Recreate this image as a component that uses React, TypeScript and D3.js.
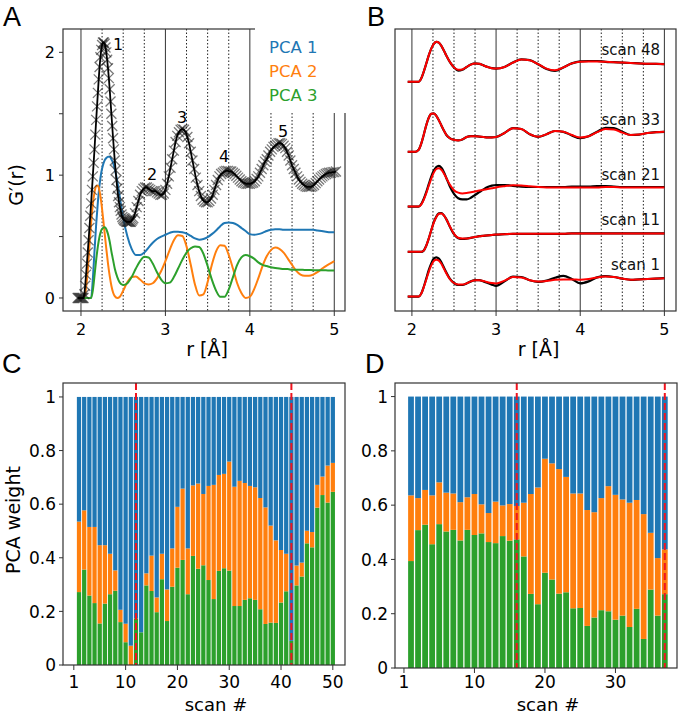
import * as d3 from 'd3';
import React from 'react';

// ---------- colours / fonts ----------
const BLUE = '#1f77b4';
const ORANGE = '#ff7f0e';
const GREEN = '#2ca02c';
const RED = '#ff0000';
const FONT = '"DejaVu Sans", Verdana, sans-serif';

// ---------- panel A: experimental G'(r) ----------
const expData: [number, number][] = [
  [1.96, 0], [1.97, 0], [1.98, 0], [1.99, 0], [2.0, 0], [2.01, 0], [2.02, 0], [2.03, 0],
  [2.04, 0.03], [2.05, 0.1], [2.06, 0.19], [2.07, 0.28], [2.08, 0.37], [2.09, 0.47], [2.1, 0.57],
  [2.11, 0.67], [2.12, 0.77], [2.13, 0.88], [2.14, 0.99], [2.15, 1.1], [2.16, 1.21], [2.17, 1.33],
  [2.18, 1.45], [2.19, 1.56], [2.2, 1.67], [2.21, 1.78], [2.22, 1.88], [2.23, 1.96], [2.24, 2.02],
  [2.25, 2.06], [2.26, 2.08], [2.27, 2.08], [2.28, 2.07], [2.29, 2.04], [2.3, 2.0], [2.31, 1.94],
  [2.32, 1.87], [2.33, 1.79], [2.34, 1.7], [2.35, 1.6], [2.36, 1.5], [2.37, 1.4], [2.38, 1.3],
  [2.39, 1.21], [2.4, 1.12], [2.41, 1.04], [2.42, 0.96], [2.43, 0.89], [2.44, 0.83], [2.45, 0.78],
  [2.46, 0.74], [2.47, 0.71], [2.48, 0.68], [2.49, 0.66], [2.5, 0.645], [2.51, 0.635], [2.52, 0.63],
  [2.53, 0.625], [2.54, 0.62], [2.55, 0.62], [2.56, 0.62], [2.57, 0.62], [2.58, 0.62], [2.59, 0.62],
  [2.6, 0.63], [2.61, 0.64], [2.62, 0.65], [2.64, 0.69], [2.66, 0.74], [2.68, 0.79], [2.7, 0.84],
  [2.72, 0.87], [2.74, 0.89], [2.76, 0.9], [2.78, 0.9], [2.8, 0.89], [2.82, 0.88], [2.84, 0.87],
  [2.86, 0.87], [2.88, 0.87], [2.9, 0.86], [2.92, 0.85], [2.94, 0.84], [2.96, 0.84], [2.98, 0.85],
  [3.0, 0.88], [3.02, 0.93], [3.04, 0.99], [3.06, 1.06], [3.08, 1.13], [3.1, 1.2], [3.12, 1.27],
  [3.14, 1.32], [3.16, 1.35], [3.18, 1.37], [3.2, 1.375], [3.22, 1.37], [3.24, 1.35], [3.26, 1.31],
  [3.28, 1.26], [3.3, 1.19], [3.32, 1.12], [3.34, 1.05], [3.36, 0.98], [3.38, 0.92], [3.4, 0.87],
  [3.42, 0.83], [3.44, 0.8], [3.46, 0.785], [3.48, 0.78], [3.5, 0.78], [3.52, 0.79], [3.54, 0.81],
  [3.56, 0.84], [3.58, 0.88], [3.6, 0.92], [3.62, 0.96], [3.64, 0.99], [3.66, 1.01], [3.68, 1.02],
  [3.7, 1.03], [3.72, 1.035], [3.74, 1.035], [3.76, 1.03], [3.78, 1.03], [3.8, 1.02], [3.82, 1.01],
  [3.84, 0.995], [3.86, 0.98], [3.88, 0.965], [3.9, 0.95], [3.92, 0.94], [3.94, 0.935], [3.96, 0.93],
  [3.98, 0.93], [4.0, 0.93], [4.02, 0.935], [4.04, 0.94], [4.06, 0.95], [4.08, 0.97], [4.1, 0.99],
  [4.12, 1.02], [4.14, 1.05], [4.16, 1.08], [4.18, 1.11], [4.2, 1.13], [4.22, 1.16], [4.24, 1.19],
  [4.26, 1.21], [4.28, 1.23], [4.3, 1.24], [4.32, 1.25], [4.34, 1.26], [4.36, 1.26], [4.38, 1.255],
  [4.4, 1.24], [4.42, 1.22], [4.44, 1.19], [4.46, 1.16], [4.48, 1.12], [4.5, 1.08], [4.52, 1.05],
  [4.54, 1.02], [4.56, 0.99], [4.58, 0.965], [4.6, 0.945], [4.62, 0.93], [4.64, 0.92], [4.66, 0.91],
  [4.68, 0.905], [4.7, 0.905], [4.72, 0.905], [4.74, 0.91], [4.76, 0.92], [4.78, 0.935], [4.8, 0.95],
  [4.82, 0.965], [4.84, 0.98], [4.86, 0.99], [4.88, 1.0], [4.9, 1.01], [4.92, 1.015], [4.94, 1.02],
  [4.96, 1.02], [4.98, 1.025], [5.0, 1.025], [5.02, 1.03],
];

// PCA components (panel A)
const pcaR = [
  2.0, 2.04, 2.08, 2.1, 2.12, 2.14, 2.16, 2.18, 2.2, 2.22, 2.24, 2.26, 2.28, 2.3, 2.32, 2.34, 2.36,
  2.38, 2.4, 2.43, 2.46, 2.5, 2.55, 2.6, 2.65, 2.7, 2.75, 2.8, 2.85, 2.9, 2.95, 3.0, 3.05, 3.1, 3.15,
  3.2, 3.25, 3.3, 3.35, 3.4, 3.45, 3.5, 3.55, 3.6, 3.65, 3.7, 3.75, 3.8, 3.85, 3.9, 3.95, 4.0, 4.05,
  4.1, 4.15, 4.2, 4.25, 4.3, 4.35, 4.4, 4.45, 4.5, 4.55, 4.6, 4.65, 4.7, 4.75, 4.8, 4.85, 4.9, 4.95, 5.0,
];
const pca1 = [
  0, 0, 0, 0, 0, 0.15, 0.38, 0.6, 0.78, 0.92, 1.02, 1.08, 1.12, 1.14, 1.15, 1.15, 1.13,
  1.1, 1.05, 0.95, 0.82, 0.65, 0.5, 0.4, 0.35, 0.35, 0.37, 0.41, 0.45, 0.48, 0.5, 0.515, 0.53, 0.54, 0.54,
  0.535, 0.525, 0.505, 0.485, 0.475, 0.48, 0.495, 0.52, 0.55, 0.585, 0.61, 0.615, 0.61, 0.595, 0.57, 0.545, 0.52, 0.515,
  0.52, 0.53, 0.545, 0.555, 0.56, 0.56, 0.555, 0.555, 0.555, 0.555, 0.555, 0.555, 0.555, 0.555, 0.55, 0.545, 0.54, 0.535, 0.535,
];
const pca2 = [
  0, 0, 0.22, 0.42, 0.61, 0.76, 0.86, 0.91, 0.915, 0.87, 0.78, 0.66, 0.53, 0.4, 0.28, 0.18, 0.1,
  0.045, 0.015, 0, 0.01, 0.06, 0.13, 0.17, 0.175, 0.15, 0.12, 0.11, 0.12, 0.16, 0.22, 0.3, 0.39, 0.47, 0.51,
  0.505, 0.42, 0.27, 0.11, 0.02, 0.03, 0.13, 0.27, 0.38, 0.43, 0.425, 0.35, 0.24, 0.12, 0.04, 0, 0.01, 0.07,
  0.16, 0.26, 0.34, 0.39, 0.41, 0.4, 0.37, 0.32, 0.27, 0.22, 0.19, 0.18, 0.18, 0.19, 0.21, 0.235, 0.26, 0.28, 0.3,
];
const pca3 = [
  0, 0, 0, 0, 0, 0.06, 0.18, 0.31, 0.42, 0.5, 0.55, 0.57, 0.575, 0.56, 0.52, 0.46, 0.38,
  0.31, 0.24, 0.17, 0.125, 0.105, 0.12, 0.17, 0.24, 0.3, 0.335, 0.33, 0.28, 0.21, 0.15, 0.12, 0.125, 0.17, 0.24,
  0.31, 0.37, 0.405, 0.42, 0.415, 0.36, 0.26, 0.15, 0.06, 0.01, 0.01, 0.07, 0.17, 0.27, 0.33, 0.35, 0.34, 0.32,
  0.29, 0.27, 0.26, 0.25, 0.245, 0.24, 0.235, 0.235, 0.23, 0.23, 0.23, 0.228, 0.228, 0.226, 0.226, 0.225, 0.225, 0.224, 0.224,
];
const pcaNames = ['PCA 1', 'PCA 2', 'PCA 3'];
const peakLabels = [
  { t: '1', r: 2.379, g: 2.02 },
  { t: '2', r: 2.782, g: 0.96 },
  { t: '3', r: 3.137, g: 1.425 },
  { t: '4', r: 3.635, g: 1.107 },
  { t: '5', r: 4.334, g: 1.311 },
];

// grid / ticks shared by A and B
const solidR = [2, 3, 4, 5];
const dottedR = [2.25, 2.5, 2.75, 3.25, 3.5, 3.75, 4.25, 4.5, 4.75];
const gTicks = [0, 0.5, 1, 1.5, 2];
const gTickLabels = ['0', '', '1', '', '2'];

// ---------- panel B: data (black) vs PCA fit (red) ----------
const rB = [
  1.95, 2.0, 2.04, 2.08, 2.11, 2.14, 2.17, 2.2, 2.23, 2.26, 2.29, 2.32, 2.35, 2.38, 2.41, 2.45,
  2.5, 2.55, 2.6, 2.65, 2.7, 2.75, 2.8, 2.85, 2.9, 2.95, 3.0, 3.1, 3.2, 3.3, 3.4, 3.5, 3.6, 3.7,
  3.8, 3.9, 4.0, 4.1, 4.2, 4.3, 4.4, 4.5, 4.6, 4.7, 4.8, 4.9, 5.0,
];
const scanNames = ['scan 48', 'scan 33', 'scan 21', 'scan 11', 'scan 1'];
const scanOffsets = [5.73, 3.98, 2.61, 1.48, 0.36];
const scanData = [
  [0, 0, 0, 0, 0.08, 0.25, 0.45, 0.66, 0.83, 0.95, 1.0, 0.98, 0.9, 0.78, 0.65, 0.5, 0.36, 0.28, 0.3, 0.37, 0.43, 0.46, 0.45, 0.41, 0.37, 0.34, 0.33, 0.37, 0.48, 0.56, 0.54, 0.44, 0.32, 0.27, 0.36, 0.46, 0.51, 0.52, 0.52, 0.5, 0.49, 0.48, 0.47, 0.46, 0.45, 0.45, 0.44],
  [0, 0, 0, 0.05, 0.2, 0.42, 0.66, 0.85, 0.95, 0.96, 0.9, 0.79, 0.66, 0.53, 0.42, 0.34, 0.3, 0.285, 0.31, 0.37, 0.39, 0.39, 0.38, 0.37, 0.36, 0.36, 0.37, 0.47, 0.59, 0.57, 0.44, 0.375, 0.44, 0.52, 0.5, 0.41, 0.34, 0.39, 0.5, 0.6, 0.59, 0.5, 0.42, 0.43, 0.47, 0.49, 0.5],
  [0, 0, 0, 0, 0.06, 0.19, 0.36, 0.56, 0.75, 0.9, 0.99, 1.02, 0.97, 0.86, 0.71, 0.51, 0.32, 0.21, 0.18, 0.18, 0.22, 0.29, 0.36, 0.43, 0.49, 0.525, 0.54, 0.54, 0.52, 0.5, 0.49, 0.49, 0.49, 0.49, 0.49, 0.5, 0.5, 0.5, 0.51, 0.51, 0.5, 0.49, 0.49, 0.49, 0.49, 0.49, 0.49],
  [0, 0, 0, 0, 0, 0.03, 0.15, 0.33, 0.54, 0.74, 0.88, 0.96, 0.97, 0.91, 0.81, 0.63, 0.44, 0.34, 0.32, 0.33, 0.35, 0.37, 0.39, 0.4, 0.41, 0.42, 0.43, 0.44, 0.45, 0.45, 0.45, 0.45, 0.45, 0.45, 0.45, 0.46, 0.46, 0.46, 0.46, 0.46, 0.46, 0.46, 0.46, 0.46, 0.46, 0.46, 0.46],
  [0, 0, 0, 0, 0.07, 0.24, 0.45, 0.66, 0.83, 0.95, 0.98, 0.95, 0.86, 0.73, 0.6, 0.45, 0.34, 0.29, 0.29, 0.33, 0.38, 0.41, 0.41, 0.38, 0.34, 0.3, 0.27, 0.38, 0.5, 0.49, 0.41, 0.37, 0.4, 0.47, 0.52, 0.44, 0.33, 0.38, 0.48, 0.51, 0.49, 0.45, 0.42, 0.43, 0.44, 0.45, 0.46],
];
const scanFit = [
  [0, 0, 0, 0, 0.08, 0.25, 0.45, 0.66, 0.83, 0.95, 1.0, 0.98, 0.9, 0.78, 0.65, 0.5, 0.36, 0.3, 0.31, 0.37, 0.43, 0.46, 0.45, 0.41, 0.37, 0.34, 0.33, 0.37, 0.48, 0.56, 0.54, 0.44, 0.33, 0.29, 0.36, 0.46, 0.5, 0.51, 0.51, 0.5, 0.49, 0.48, 0.47, 0.46, 0.45, 0.45, 0.44],
  [0, 0, 0, 0.05, 0.2, 0.42, 0.66, 0.85, 0.95, 0.96, 0.9, 0.79, 0.66, 0.53, 0.42, 0.34, 0.3, 0.285, 0.31, 0.37, 0.39, 0.39, 0.38, 0.37, 0.36, 0.36, 0.37, 0.47, 0.59, 0.57, 0.44, 0.375, 0.44, 0.52, 0.5, 0.42, 0.36, 0.39, 0.49, 0.57, 0.56, 0.48, 0.42, 0.43, 0.47, 0.49, 0.5],
  [0, 0, 0, 0, 0.05, 0.17, 0.33, 0.52, 0.7, 0.85, 0.94, 0.96, 0.92, 0.83, 0.71, 0.55, 0.41, 0.35, 0.33, 0.34, 0.36, 0.38, 0.4, 0.42, 0.44, 0.46, 0.48, 0.51, 0.535, 0.53, 0.51, 0.49, 0.48, 0.48, 0.48, 0.48, 0.48, 0.48, 0.48, 0.49, 0.49, 0.48, 0.48, 0.48, 0.48, 0.48, 0.48],
  [0, 0, 0, 0, 0, 0.03, 0.15, 0.33, 0.54, 0.73, 0.87, 0.95, 0.96, 0.91, 0.81, 0.64, 0.45, 0.35, 0.33, 0.33, 0.35, 0.37, 0.39, 0.4, 0.41, 0.42, 0.43, 0.44, 0.45, 0.45, 0.45, 0.45, 0.45, 0.45, 0.45, 0.46, 0.46, 0.46, 0.46, 0.46, 0.46, 0.46, 0.46, 0.46, 0.46, 0.46, 0.46],
  [0, 0, 0, 0, 0.07, 0.23, 0.42, 0.62, 0.78, 0.89, 0.92, 0.9, 0.82, 0.7, 0.58, 0.44, 0.34, 0.3, 0.3, 0.33, 0.38, 0.41, 0.41, 0.39, 0.36, 0.34, 0.33, 0.4, 0.49, 0.48, 0.41, 0.375, 0.39, 0.42, 0.43, 0.43, 0.42, 0.44, 0.48, 0.5, 0.49, 0.45, 0.42, 0.43, 0.44, 0.45, 0.46],
];

// ---------- panel C: PCA weights, 50 scans ----------
const weightC3 = [
  0.272, 0.356, 0.259, 0.231, 0.155, 0.229, 0.264, 0.277, 0.16, 0.085,
  0, 0.174, 0.122, 0.297, 0.276, 0.197, 0.32, 0.164, 0.292, 0.363,
  0.392, 0.264, 0.407, 0.359, 0.372, 0.317, 0.246, 0.351, 0.361, 0.352,
  0.22, 0.22, 0.243, 0.249, 0.243, 0.208, 0.153, 0.158, 0.157, 0.233,
  0.275, 0.09, 0.297, 0.33, 0.454, 0.439, 0.587, 0.634, 0.606, 0.646,
];
const weightC2 = [
  0.263, 0.221, 0.256, 0.284, 0.292, 0.218, 0.151, 0.076, 0.046, 0.069,
  0.072, 0, 0, 0.045, 0.132, 0.055, 0.095, 0.118, 0.143, 0.227,
  0.266, 0.171, 0.263, 0.318, 0.266, 0.351, 0.426, 0.358, 0.352, 0.407,
  0.445, 0.467, 0.436, 0.419, 0.42, 0.415, 0.435, 0.362, 0.308, 0.196,
  0.14, 0, 0.074, 0.052, 0.047, 0.057, 0.085, 0.069, 0.138, 0.108,
];
const refScansC = [12, 42];
const ticksC = [0, 10, 20, 30, 40, 50];
const tickLabelsC = ['1', '10', '20', '30', '40', '50'];

// ---------- panel D: PCA weights, 37 scans ----------
const weightD3 = [
  0.394, 0.508, 0.528, 0.456, 0.53, 0.503, 0.509, 0.47, 0.509, 0.49,
  0.496, 0.464, 0.46, 0.486, 0.469, 0.474, 0.411, 0.273, 0.235, 0.351,
  0.326, 0.274, 0.279, 0.22, 0.221, 0.155, 0.186, 0.213, 0.209, 0.178,
  0.193, 0.151, 0.218, 0.107, 0.289, 0.193, 0.272,
];
const weightD2 = [
  0.242, 0.118, 0.128, 0.18, 0.154, 0.143, 0.134, 0.141, 0.12, 0.151,
  0.107, 0.107, 0.153, 0.113, 0.135, 0.123, 0.198, 0.368, 0.43, 0.42,
  0.428, 0.459, 0.425, 0.423, 0.422, 0.427, 0.388, 0.413, 0.461, 0.46,
  0.428, 0.458, 0.401, 0.46, 0.209, 0.212, 0.165,
];
const refScansD = [16, 37];
const ticksD = [0, 10, 20, 30];
const tickLabelsD = ['1', '10', '20', '30'];
const weightTicks = [0, 0.2, 0.4, 0.6, 0.8, 1];
const weightTickLabels = ['0', '0.2', '0.4', '0.6', '0.8', '1'];

type Frame = { l: number; r: number; t: number; b: number };

const Box = ({ f }: { f: Frame }) => (
  <rect x={f.l} y={f.t} width={f.r - f.l} height={f.b - f.t} fill="none" stroke="#333" strokeWidth={1.2} />
);

const RGrid = ({ x, f }: { x: d3.ScaleLinear<number, number>; f: Frame }) => (
  <g>
    {solidR.map((r) => (
      <line key={'s' + r} x1={x(r)} x2={x(r)} y1={f.t} y2={f.b} stroke="#333" strokeWidth={1} />
    ))}
    {dottedR.map((r) => (
      <line key={'d' + r} x1={x(r)} x2={x(r)} y1={f.t} y2={f.b} stroke="#222" strokeWidth={1} strokeDasharray="1.5 2" />
    ))}
    {solidR.map((r) => (
      <g key={'t' + r}>
        <line x1={x(r)} x2={x(r)} y1={f.b} y2={f.b + 5} stroke="#333" strokeWidth={1} />
        <text x={x(r)} y={335} textAnchor="middle" fontSize={16} fontFamily={FONT}>{r}</text>
      </g>
    ))}
    <text x={(f.l + f.r) / 2 + 3} y={356} textAnchor="middle" fontSize={19} fontFamily={FONT}>r [Å]</text>
  </g>
);

const PanelA = () => {
  const f: Frame = { l: 63, r: 345, t: 29, b: 311 };
  const x = d3.scaleLinear().domain([1.787, 5.127]).range([f.l, f.r]);
  const y = d3.scaleLinear().domain([-0.106, 2.19]).range([f.b, f.t]);
  const pcaLine = d3.line<number>().x((_, i) => x(pcaR[i])).y((d) => y(d)).curve(d3.curveMonotoneX);
  const expLine = d3.line<[number, number]>().x((d) => x(d[0])).y((d) => y(d[1]));
  const comps = [pca1, pca2, pca3];
  const cols = [BLUE, ORANGE, GREEN];
  return (
    <g>
      <RGrid x={x} f={f} />
      {comps.map((c, k) => (
        <path key={k} d={pcaLine(c) || ''} fill="none" stroke={cols[k]} strokeWidth={2} />
      ))}
      {expData.map((d, i) => (
        <path
          key={i}
          transform={`translate(${x(d[0])},${y(d[1])})`}
          d="M-5,-5L5,5M-5,5L5,-5"
          stroke="#222"
          strokeOpacity={0.6}
          strokeWidth={1.3}
          fill="none"
        />
      ))}
      <path d={expLine(expData) || ''} fill="none" stroke="#000" strokeWidth={1.8} />
      <Box f={f} />
      {gTicks.map((v, i) => (
        <g key={v}>
          <line x1={f.l - 4} x2={f.l} y1={y(v)} y2={y(v)} stroke="#333" />
          <text x={55} y={y(v)} dy="0.36em" textAnchor="end" fontSize={16} fontFamily={FONT}>{gTickLabels[i]}</text>
        </g>
      ))}
      {/* legend (opaque box hiding the corner of the frame) */}
      <rect x={255} y={24} width={95} height={89} fill="#fff" />
      {pcaNames.map((n, k) => (
        <text key={n} x={269} y={53 + k * 24} fontSize={16.5} fontFamily={FONT} fill={cols[k]}>{n}</text>
      ))}
      {peakLabels.map((p) => (
        <text key={p.t} x={x(p.r)} y={y(p.g)} fontSize={16} fontFamily={FONT}>{p.t}</text>
      ))}
      <text transform={`translate(23,185) rotate(-90)`} textAnchor="middle" fontSize={19} fontFamily={FONT}>G′(r)</text>
    </g>
  );
};

const PanelB = () => {
  const f: Frame = { l: 395, r: 676, t: 29, b: 311 };
  const x = d3.scaleLinear().domain([1.799, 5.138]).range([f.l, f.r]);
  const y = d3.scaleLinear().domain([0, 7.05]).range([f.b, f.t]);
  const mk = (off: number) =>
    d3.line<number>().x((_, i) => x(rB[i])).y((d) => y(d + off)).curve(d3.curveMonotoneX);
  return (
    <g>
      <RGrid x={x} f={f} />
      {scanData.map((s, k) => (
        <path key={'b' + k} d={mk(scanOffsets[k])(s) || ''} fill="none" stroke="#000" strokeWidth={2.2} />
      ))}
      {scanFit.map((s, k) => (
        <path key={'r' + k} d={mk(scanOffsets[k])(s) || ''} fill="none" stroke={RED} strokeWidth={2} />
      ))}
      {scanNames.map((n, k) => (
        <text key={n} x={x(4.948)} y={y(scanOffsets[k] + 0.66)} textAnchor="end" fontSize={15} fontFamily={FONT} fill="#111">{n}</text>
      ))}
      <Box f={f} />
    </g>
  );
};

type BarProps = {
  f: Frame;
  xDomain: [number, number];
  yTop: number;
  w3: number[];
  w2: number[];
  refs: number[];
  ticks: number[];
  tickLabels: string[];
  labelRight: number;
};

const BarPanel = ({ f, xDomain, yTop, w3, w2, refs, ticks, tickLabels, labelRight }: BarProps) => {
  const x = d3.scaleLinear().domain(xDomain).range([f.l, f.r]);
  const y = d3.scaleLinear().domain([0, yTop]).range([f.b, f.t]);
  const rows = w3.map((g, i) => ({ scan: i + 1, pca3: g, pca2: w2[i], pca1: 1 - g - w2[i] }));
  const series = d3.stack<any>().keys(['pca3', 'pca2', 'pca1'])(rows);
  const cols = [GREEN, ORANGE, BLUE];
  const bw = (x(1) - x(0)) * 0.82;
  return (
    <g>
      {series.map((s, k) => (
        <g key={k} fill={cols[k]}>
          {s.map((d, i) => (
            <rect
              key={i}
              x={x(d.data.scan) - bw / 2}
              width={bw}
              y={y(d[1])}
              height={Math.max(0, y(d[0]) - y(d[1]))}
            />
          ))}
        </g>
      ))}
      {refs.map((s) => (
        <line key={s} x1={x(s)} x2={x(s)} y1={f.t} y2={f.b} stroke="#f0141e" strokeWidth={2} strokeDasharray="7 3" />
      ))}
      <Box f={f} />
      {weightTicks.map((v, i) => (
        <g key={v}>
          <line x1={f.l - 4} x2={f.l} y1={y(v)} y2={y(v)} stroke="#333" />
          <text x={labelRight} y={y(v)} dy="0.36em" textAnchor="end" fontSize={17} fontFamily={FONT}>{weightTickLabels[i]}</text>
        </g>
      ))}
      {ticks.map((t, i) => (
        <g key={t}>
          <line x1={x(t)} x2={x(t)} y1={f.b} y2={f.b + 5} stroke="#333" />
          <text x={x(t)} y={688} textAnchor="middle" fontSize={17} fontFamily={FONT}>{tickLabels[i]}</text>
        </g>
      ))}
      <text x={(f.l + f.r) / 2 + 12} y={711} textAnchor="middle" fontSize={18} fontFamily={FONT}>scan #</text>
    </g>
  );
};

const Letter = ({ x, y, t }: { x: number; y: number; t: string }) => (
  <text x={x} y={y} fontSize={27} fontFamily='"Liberation Sans", Arial, sans-serif'>{t}</text>
);

export default function App() {
  return (
    <svg
      width={684}
      height={715}
      viewBox="0 0 684 715"
      style={{ position: 'absolute', left: 0, top: 0, display: 'block', background: '#fff' }}
    >
      <rect width={684} height={715} fill="#fff" />
      <PanelA />
      <PanelB />
      <BarPanel
        f={{ l: 63, r: 345, t: 383, b: 665 }}
        xDomain={[-2.09, 52.35]}
        yTop={1.052}
        w3={weightC3}
        w2={weightC2}
        refs={refScansC}
        ticks={ticksC}
        tickLabels={tickLabelsC}
        labelRight={56}
      />
      <BarPanel
        f={{ l: 395, r: 677, t: 383, b: 668 }}
        xDomain={[-1.27, 38.73]}
        yTop={1.05}
        w3={weightD3}
        w2={weightD2}
        refs={refScansD}
        ticks={ticksD}
        tickLabels={tickLabelsD}
        labelRight={388}
      />
      <text transform="translate(20,520) rotate(-90)" textAnchor="middle" fontSize={19} fontFamily={FONT}>PCA weight</text>
      <Letter x={3} y={26} t="A" />
      <Letter x={367} y={26} t="B" />
      <Letter x={2} y={373} t="C" />
      <Letter x={365} y={373} t="D" />
    </svg>
  );
}
